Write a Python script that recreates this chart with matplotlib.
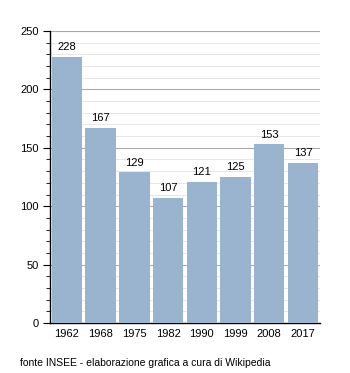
import numpy as np
from matplotlib import pyplot as plt
import matplotlib.ticker as mticker

years = ["1962", "1968", "1975", "1982", "1990", "1999", "2008", "2017"]
values = [228, 167, 129, 107, 121, 125, 153, 137]

plt.rcParams['font.family'] = ['Liberation Sans', 'DejaVu Sans']

fig = plt.figure(figsize=(3.5, 3.73), dpi=100)
ax = fig.add_axes([0.143, 0.134, 0.771, 0.783])

x = np.arange(len(years))
ax.bar(x, values, width=0.9, color="#9ab3cf", zorder=3)
for xi, v in zip(x, values):
    ax.text(xi, v + 4, str(v), ha="center", va="bottom", fontsize=8, zorder=4)

ax.set_xlim(-0.5, len(years) - 0.5)
ax.set_ylim(0, 250)
ax.set_xticks(x)
ax.set_xticklabels(years, fontsize=8)
ax.tick_params(axis="x", length=0, pad=4)
ax.yaxis.set_major_locator(mticker.MultipleLocator(50))
ax.yaxis.set_minor_locator(mticker.MultipleLocator(10))
ax.tick_params(axis="y", which="major", length=5, labelsize=8, pad=3)
ax.tick_params(axis="y", which="minor", length=3)
ax.grid(axis="y", which="major", color="#aaaaaa", linewidth=0.8, zorder=0)
ax.grid(axis="y", which="minor", color="#e2e2e2", linewidth=0.6, zorder=0)
for s in ["top", "right"]:
    ax.spines[s].set_visible(False)
ax.spines["left"].set_linewidth(1)
ax.spines["bottom"].set_linewidth(1)

fig.text(0.057, 0.02, "fonte INSEE - elaborazione grafica a cura di Wikipedia", fontsize=7.5)

plt.savefig("out.png", dpi=100)
